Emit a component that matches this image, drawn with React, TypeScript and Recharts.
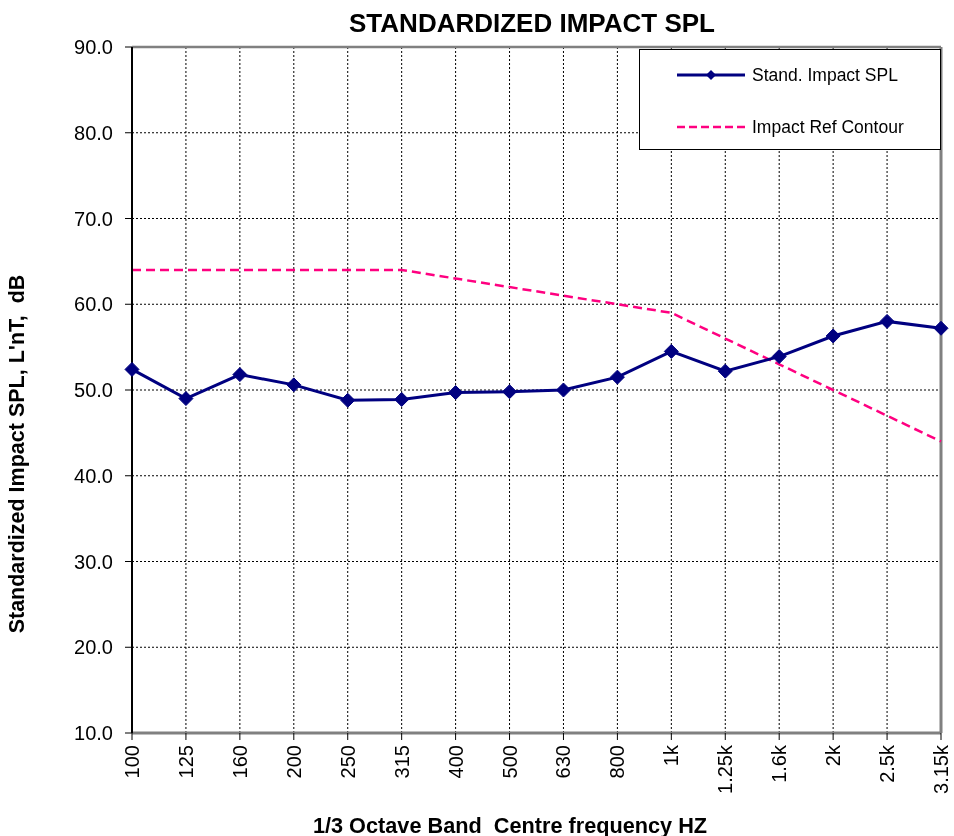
import React from 'react';
import {
  LineChart,
  Line,
  XAxis,
  YAxis,
  CartesianGrid,
  ReferenceLine,
  Legend,
  Customized,
} from 'recharts';

const categories = ['100', '125', '160', '200', '250', '315', '400', '500', '630', '800', '1k', '1.25k', '1.6k', '2k', '2.5k', '3.15k'];
const standImpactSPL = [52.4, 49.0, 51.8, 50.6, 48.8, 48.9, 49.7, 49.8, 50.0, 51.5, 54.5, 52.2, 53.9, 56.3, 58.0, 57.2];
const impactRefContour = [64, 64, 64, 64, 64, 64, 63, 62, 61, 60, 59, 56, 53, 50, 47, 44];
const yTicks = [10, 20, 30, 40, 50, 60, 70, 80, 90];

const chartTitle = 'STANDARDIZED IMPACT SPL';
const yAxisTitle = "Standardized Impact SPL, L'nT,  dB";
const xAxisTitle = '1/3 Octave Band  Centre frequency HZ';

const FONT = '"Liberation Sans", Arial, Helvetica, sans-serif';
const NAVY = '#000080';
const PINK = '#FF0080';

const data = categories.map((freq, i) => ({
  freq,
  stand: standImpactSPL[i],
  ref: impactRefContour[i],
}));

const Diamond = (props: any) => {
  const { cx, cy } = props;
  if (cx == null || cy == null) return null;
  const r = 7;
  return (
    <polygon
      points={`${cx},${cy - r} ${cx + r},${cy} ${cx},${cy + r} ${cx - r},${cy}`}
      fill={NAVY}
      stroke={NAVY}
      strokeWidth={1}
    />
  );
};

const XTick = (props: any) => {
  const { x, y, payload } = props;
  return (
    <text
      x={x}
      y={y}
      transform={`rotate(-90, ${x}, ${y})`}
      textAnchor="end"
      dominantBaseline="central"
      fontSize={20}
      fontFamily={FONT}
      fill="#000"
    >
      {payload.value}
    </text>
  );
};

const Titles = () => (
  <g>
    <text x={524} y={23.7} textAnchor="middle" fontSize={26} fontWeight="bold" fontFamily={FONT} fill="#000">
      {chartTitle}
    </text>
    <text
      x={15.5}
      y={446}
      transform="rotate(-90, 15.5, 446)"
      textAnchor="middle"
      fontSize={21.5}
      fontWeight="bold"
      fontFamily={FONT}
      fill="#000"
      style={{ whiteSpace: 'pre' }}
    >
      {yAxisTitle}
    </text>
    <text
      x={502}
      y={824.5}
      textAnchor="middle"
      fontSize={21.7}
      fontWeight="bold"
      fontFamily={FONT}
      fill="#000"
      style={{ whiteSpace: 'pre' }}
    >
      {xAxisTitle}
    </text>
  </g>
);

const legendItems = [
  { name: 'Stand. Impact SPL', color: NAVY, dashed: false, marker: true },
  { name: 'Impact Ref Contour', color: PINK, dashed: true, marker: false },
];

const LegendBox = () => (
  <div
    style={{
      position: 'relative',
      width: 302,
      height: 101,
      boxSizing: 'border-box',
      border: '1.5px solid #000',
      background: '#fff',
      fontFamily: FONT,
      fontSize: 17.5,
      color: '#000',
    }}
  >
    {legendItems.map((item, i) => (
      <div
        key={item.name}
        style={{
          position: 'absolute',
          left: 37,
          top: (i === 0 ? 25 : 77) - 13,
          height: 26,
          display: 'flex',
          alignItems: 'center',
          whiteSpace: 'nowrap',
        }}
      >
        <svg width={68} height={14} style={{ display: 'block' }}>
          <line
            x1={0}
            y1={7}
            x2={68}
            y2={7}
            stroke={item.color}
            strokeWidth={item.dashed ? 2.5 : 3}
            strokeDasharray={item.dashed ? '8 4' : undefined}
          />
          {item.marker && <polygon points="34,2 39,7 34,12 29,7" fill={NAVY} />}
        </svg>
        <span style={{ marginLeft: 7 }}>{item.name}</span>
      </div>
    ))}
  </div>
);

export default function App() {
  return (
    <div style={{ position: 'fixed', left: 8, top: 8, width: 946, height: 828 }}>
      <LineChart
        width={946}
        height={828}
        data={data}
        margin={{ top: 39, right: 13, bottom: 23, left: 0 }}
        style={{ fontFamily: FONT, overflow: 'visible' }}
      >
        <CartesianGrid stroke="#000" strokeDasharray="2 2" strokeWidth={1} />
        <XAxis
          dataKey="freq"
          interval={0}
          height={80}
          tick={<XTick />}
          tickSize={7}
          tickMargin={5}
          tickLine={{ stroke: '#000', strokeWidth: 1 }}
          axisLine={{ stroke: '#808080', strokeWidth: 3 }}
        />
        <YAxis
          width={124}
          domain={[10, 90]}
          ticks={yTicks}
          interval={0}
          allowDataOverflow
          tickFormatter={(v: number) => v.toFixed(1)}
          tick={{ fontSize: 20, fontFamily: FONT, fill: '#000' }}
          tickSize={7}
          tickMargin={12}
          tickLine={{ stroke: '#000', strokeWidth: 1 }}
          axisLine={{ stroke: '#000', strokeWidth: 2 }}
        />
        <ReferenceLine y={90} stroke="#808080" strokeWidth={2.5} />
        <ReferenceLine x="3.15k" stroke="#808080" strokeWidth={3} />
        <Line
          type="linear"
          dataKey="ref"
          name="Impact Ref Contour"
          stroke={PINK}
          strokeWidth={2.5}
          strokeDasharray="9 5"
          dot={false}
          activeDot={false}
          isAnimationActive={false}
        />
        <Line
          type="linear"
          dataKey="stand"
          name="Stand. Impact SPL"
          stroke={NAVY}
          strokeWidth={3}
          dot={<Diamond />}
          activeDot={false}
          isAnimationActive={false}
        />
        <Legend
          layout="vertical"
          align="center"
          verticalAlign="middle"
          wrapperStyle={{ left: 631, top: 41, width: 302, height: 101 }}
          content={<LegendBox />}
        />
        <Customized component={Titles} />
      </LineChart>
    </div>
  );
}
